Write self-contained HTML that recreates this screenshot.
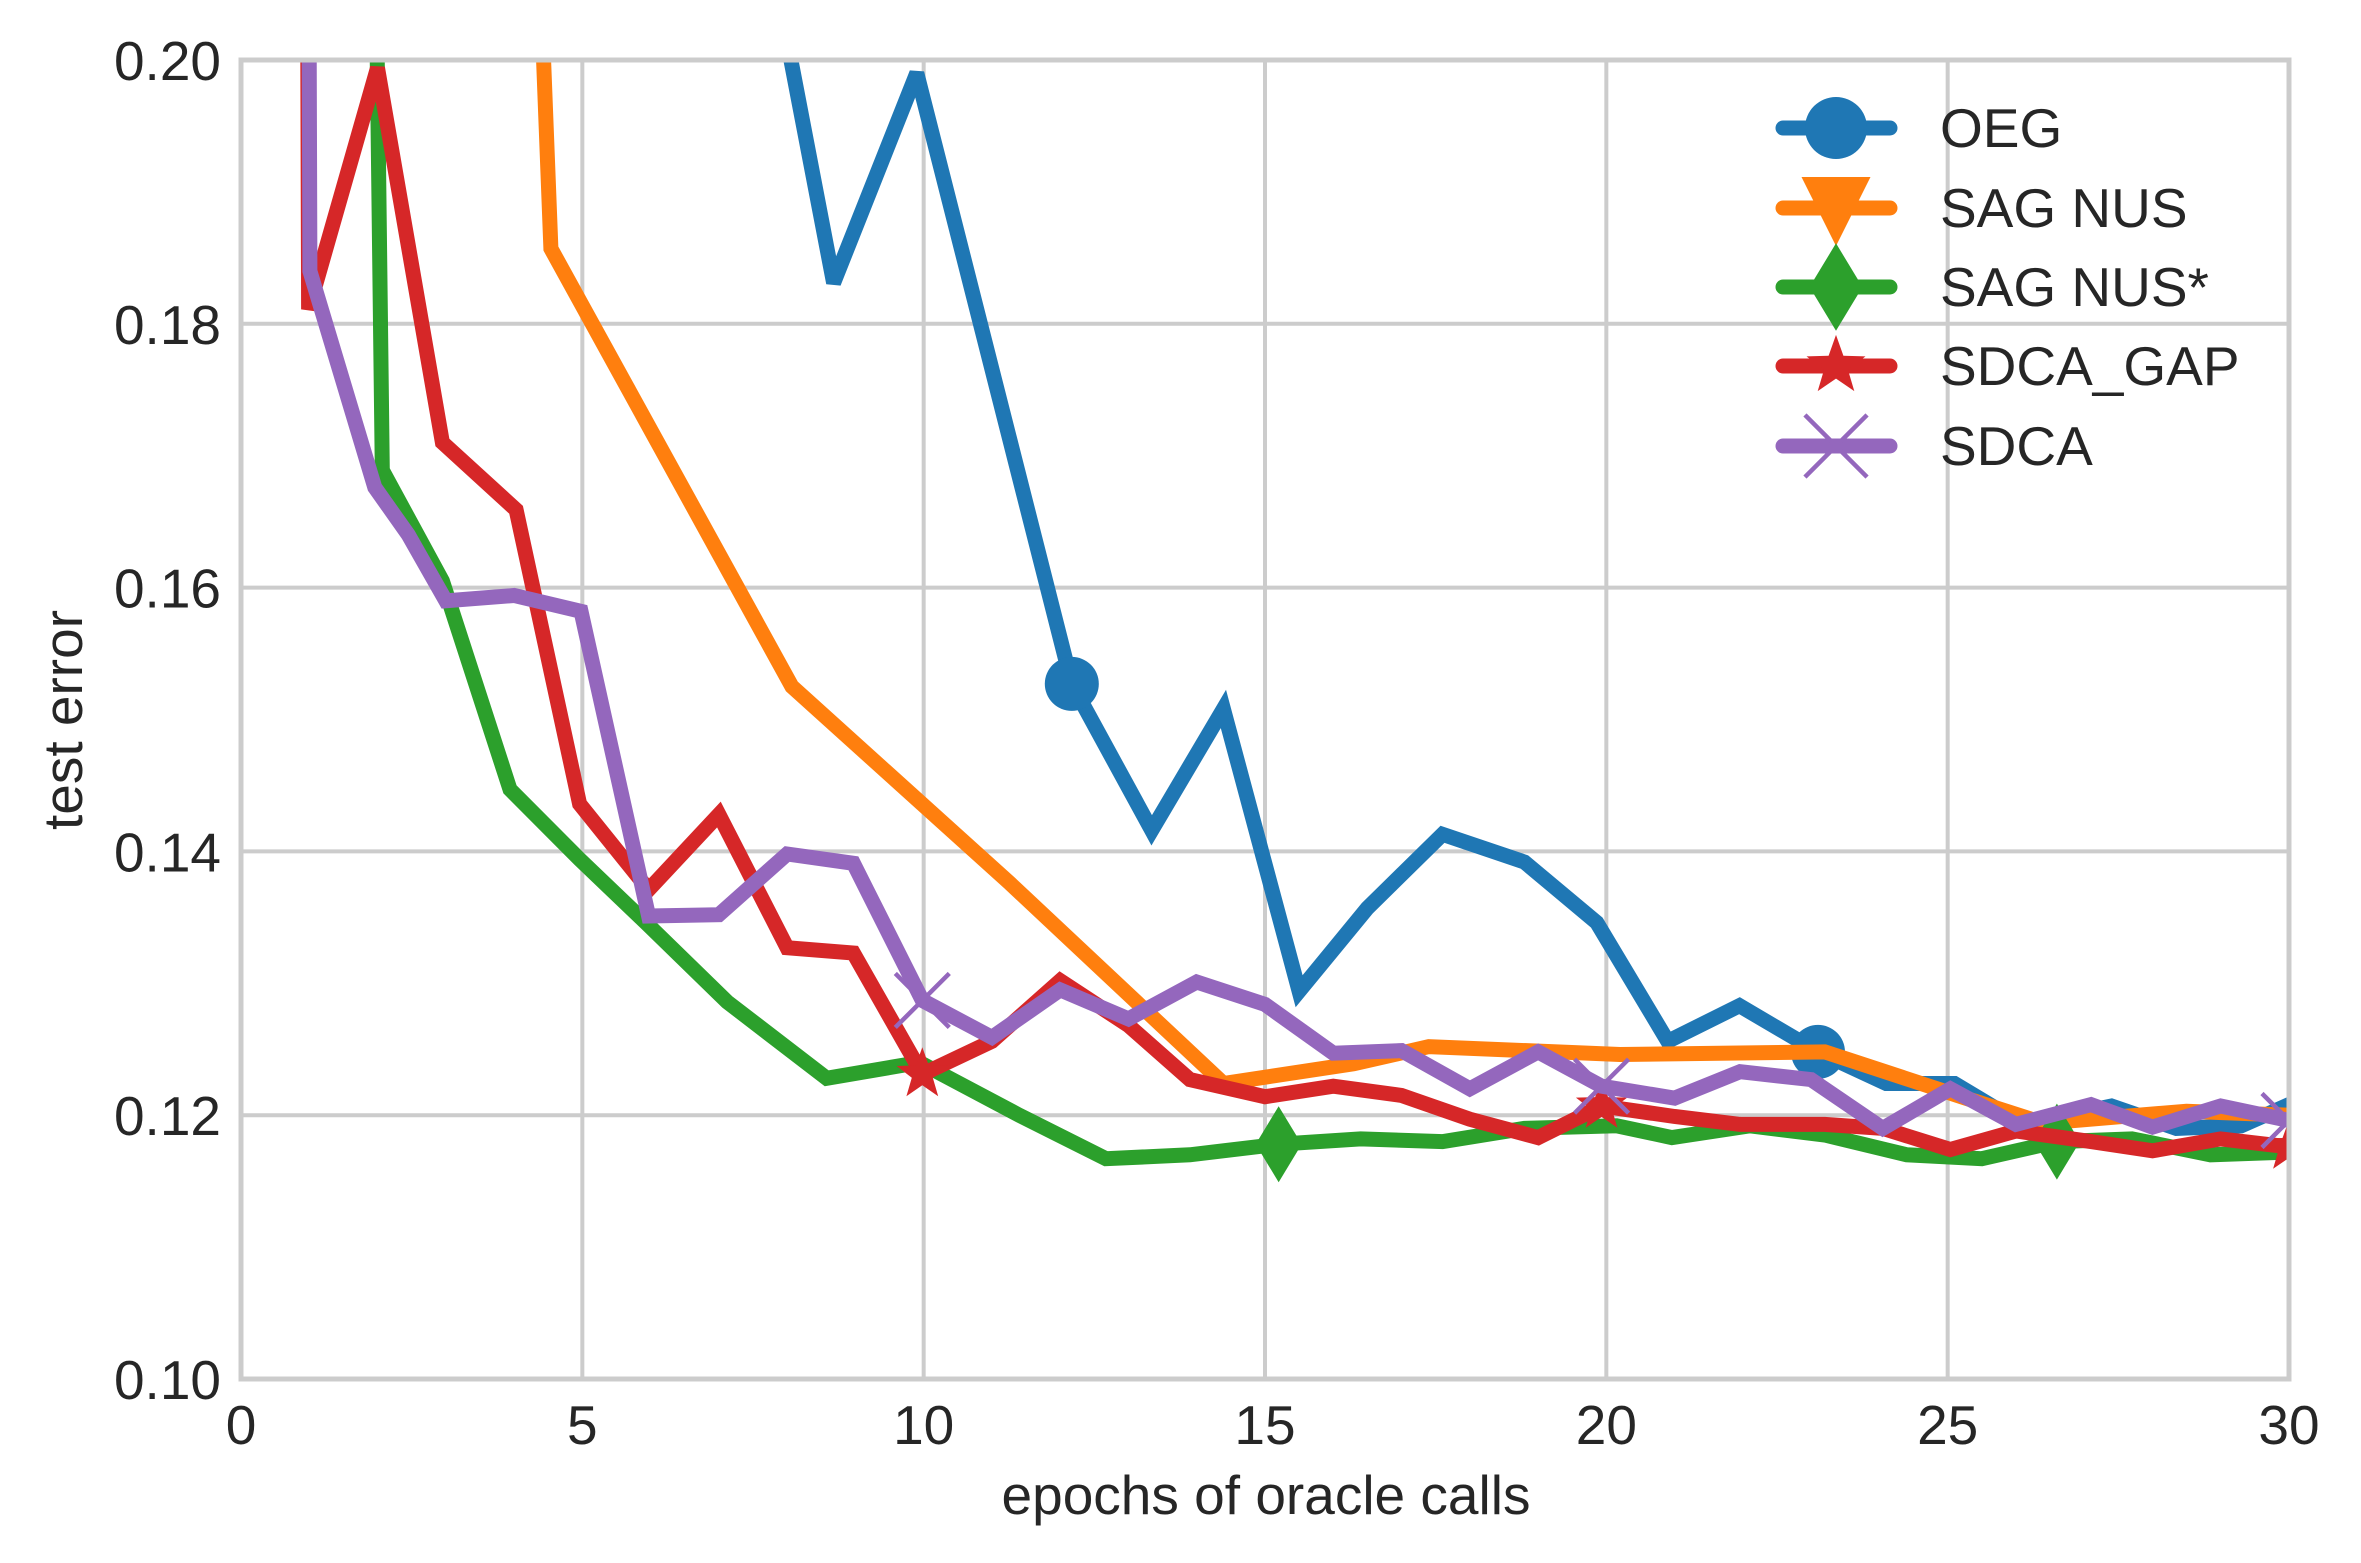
<!DOCTYPE html>
<html><head><meta charset="utf-8"><style>
html,body{margin:0;padding:0;background:#fff}
svg{display:block}
text{font-family:"Liberation Sans",Arial,sans-serif;fill:#262626}
</style></head><body>
<svg id="chart" width="2361" height="1563" viewBox="0 0 2361 1563" xmlns="http://www.w3.org/2000/svg">
<g id="grid"></g>
<g id="series"></g>
<g id="frame"></g>
<g id="ticks"></g>
<text x="1266" y="1514" font-size="55" text-anchor="middle">epochs of oracle calls</text>
<text x="0" y="0" font-size="55" text-anchor="middle" transform="translate(82,720) rotate(-90)">test error</text>
<g id="legend"></g>
</svg>
<script>
const xTicks=[0,5,10,15,20,25,30];
const yTicks=[0.10,0.12,0.14,0.16,0.18,0.20];
const yTickLabels=["0.10","0.12","0.14","0.16","0.18","0.20"];
const seriesNames=["OEG","SAG NUS","SAG NUS*","SDCA_GAP","SDCA"];
const oegX=[7.5,8.68,9.9,12.17,13.34,14.39,15.5,16.5,17.6,18.8,19.86,20.9,21.95,23.1,24.1,25.1,26.1,27.4,28.35,29.3,30];
const oegY=[0.215,0.1831,0.199,0.1527,0.1416,0.1508,0.1294,0.1357,0.1413,0.1392,0.1346,0.1256,0.1283,0.1248,0.1224,0.1224,0.1193,0.1207,0.119,0.1192,0.1208];
const oegMarks=[12.17,23.1];
const sagX=[4.32,4.54,8.07,11.26,14.39,16.3,17.4,20.2,23.2,25.2,26.4,28.5,30];
const sagY=[0.215,0.1857,0.1525,0.1376,0.1224,0.1239,0.1252,0.1246,0.1248,0.1214,0.1194,0.1203,0.12];
const sagMarks=[];
const sagsX=[1.96,2.07,2.95,3.94,4.96,5.97,7.12,8.58,9.94,11.4,12.67,13.9,15.2,16.4,17.6,18.8,20.15,20.96,22.1,23.2,24.4,25.5,26.6,27.7,28.85,30];
const sagsY=[0.215,0.1689,0.1605,0.1447,0.1394,0.1344,0.1286,0.1228,0.124,0.12,0.1167,0.117,0.1178,0.1182,0.118,0.119,0.1192,0.1183,0.1192,0.1185,0.117,0.1167,0.118,0.1182,0.117,0.1172];
const sagsMarks=[15.2,26.6];
const gapX=[0.97,0.99,2.0,2.95,4.03,4.96,5.97,7.0,8.0,8.97,9.98,11.0,12.0,13.0,13.9,15.0,16.0,17.0,18.0,19.0,19.93,21.0,21.96,23.2,24.05,25.04,26.0,27.1,28.0,29.0,30];
const gapY=[0.215,0.1811,0.1994,0.171,0.1659,0.1436,0.1371,0.1428,0.1327,0.1323,0.1231,0.1256,0.1302,0.1268,0.1227,0.1214,0.1222,0.1215,0.1197,0.1183,0.1207,0.1199,0.1193,0.1193,0.119,0.1174,0.1188,0.118,0.1173,0.1182,0.1176];
const gapMarks=[9.98,19.93,30];
const sdcaX=[0.99,1.01,1.96,2.45,3.0,4.0,4.98,5.97,7.0,8.0,8.97,9.98,11.0,12.0,13.0,14.0,15.0,16.0,17.0,18.0,19.0,19.93,21.0,21.96,23.0,24.05,25.04,26.0,27.1,28.0,29.0,30];
const sdcaY=[0.215,0.184,0.1676,0.164,0.159,0.1594,0.1582,0.1351,0.1352,0.1398,0.1391,0.1287,0.1259,0.1295,0.1273,0.1301,0.1284,0.1247,0.1249,0.122,0.1248,0.1222,0.1213,0.1233,0.1227,0.119,0.122,0.1193,0.1208,0.1191,0.1207,0.1196];
const sdcaMarks=[9.98,19.93,30];

const NS="http://www.w3.org/2000/svg";
const L=241,R=2289,T=60,B=1379;
const sx=v=>L+(v-0)/30*(R-L);
const sy=v=>B-(v-0.10)/0.10*(B-T);
function mk(tag,attrs,parent){const e=document.createElementNS(NS,tag);for(const k in attrs)e.setAttribute(k,attrs[k]);parent.appendChild(e);return e;}
const grid=document.getElementById('grid'),ticks=document.getElementById('ticks');
xTicks.forEach(v=>{
 const g=mk('line',{x1:sx(v),x2:sx(v),y1:T,y2:B,stroke:'#cccccc','stroke-width':4},grid);
 
 
 const t=mk('text',{x:sx(v),y:1444,'font-size':55,'text-anchor':'middle'},ticks);
 t.textContent=String(v);
 
 
});
yTicks.forEach((v,i)=>{
 const g=mk('line',{x1:L,x2:R,y1:sy(v),y2:sy(v),stroke:'#cccccc','stroke-width':4},grid);
 
 
 const t=mk('text',{x:221,y:sy(v)+20,'font-size':55,'text-anchor':'end'},ticks);
 t.textContent=yTickLabels[i];
 
 
});
const fr=mk('rect',{x:L,y:T,width:R-L,height:B-T,fill:'none',stroke:'#cccccc','stroke-width':5},document.getElementById('frame'));



const defs=mk('defs',{},document.getElementById('chart'));
const cp=mk('clipPath',{id:'clip'},defs);
mk('rect',{x:L,y:T,width:R-L,height:B-T},cp);

function marker(type,cx,cy,color,parent,s){
 s=s||1;let e;
 if(type==='circle'){e=mk('circle',{cx:cx,cy:cy,r:27*s,fill:color},parent);}
 else if(type==='tri'){const w=30*s,h=27*s;e=mk('polygon',{points:`${cx-w},${cy-h} ${cx+w},${cy-h} ${cx},${cy+h+6*s}`,fill:color},parent);}
 else if(type==='diamond'){const w=23*s,h=38*s;e=mk('polygon',{points:`${cx},${cy-h} ${cx+w},${cy} ${cx},${cy+h} ${cx-w},${cy}`,fill:color},parent);}
 else if(type==='star'){let p=[];for(let i=0;i<10;i++){const r=i%2?11*s:27*s;const a=-Math.PI/2+i*Math.PI/5;p.push((cx+r*Math.cos(a)).toFixed(1)+','+(cy+r*Math.sin(a)).toFixed(1));}e=mk('polygon',{points:p.join(' '),fill:color},parent);}
 else if(type==='x'){const d=27*s;e=mk('path',{d:`M${cx-d},${cy-d}L${cx+d},${cy+d}M${cx-d},${cy+d}L${cx+d},${cy-d}`,stroke:color,'stroke-width':4.5,fill:'none'},parent);}
 return e;
}
const defsS=[
 {xs:oegX,ys:oegY,m:oegMarks,c:'#1f77b4',t:'circle',n:'oeg'},
 {xs:sagX,ys:sagY,m:sagMarks,c:'#ff7f0e',t:'tri',n:'sag-nus'},
 {xs:sagsX,ys:sagsY,m:sagsMarks,c:'#2ca02c',t:'diamond',n:'sag-nus-star'},
 {xs:gapX,ys:gapY,m:gapMarks,c:'#d62728',t:'star',n:'sdca-gap'},
 {xs:sdcaX,ys:sdcaY,m:sdcaMarks,c:'#9467bd',t:'x',n:'sdca'}
];
const sg=document.getElementById('series');
defsS.forEach(s=>{
 const g=mk('g',{'clip-path':'url(#clip)'},sg);
 
 
 const d=s.xs.map((x,i)=>(i?'L':'M')+sx(x).toFixed(1)+','+sy(s.ys[i]).toFixed(1)).join('');
 const p=mk('path',{d:d,fill:'none',stroke:s.c,'stroke-width':15,'stroke-linejoin':'miter','stroke-miterlimit':3,'stroke-linecap':'square'},g);
 
 
 s.m.forEach(mx=>{
  const i=s.xs.indexOf(mx);
  const e=marker(s.t,sx(mx),sy(s.ys[i]),s.c,g,1);
  
  
 });
});
const lg=document.getElementById('legend');
const rows=[128,208,287,366,446];
defsS.forEach((s,i)=>{
 const g=mk('g',{},lg);
 
 
 mk('line',{x1:1783,x2:1890,y1:rows[i],y2:rows[i],stroke:s.c,'stroke-width':15,'stroke-linecap':'round'},g);
 marker(s.t,1836,rows[i],s.c,g,1.15);
 const t=mk('text',{x:1940,y:rows[i]+19,'font-size':55},g);
 t.textContent=seriesNames[i];
 
 
});
</script>
</body></html>
